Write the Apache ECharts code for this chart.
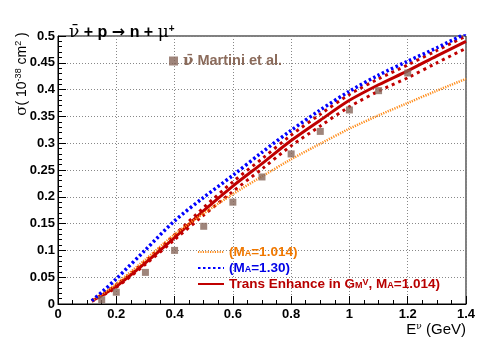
<!DOCTYPE html>
<html>
<head>
<meta charset="utf-8">
<script src="https://cdn.jsdelivr.net/npm/echarts@6/dist/echarts.min.js"></script>
<style>
html,body{margin:0;padding:0;background:#fff;}
#chart{width:485px;height:360px;}
</style>
</head>
<body>
<div id="chart"></div>
<script>
// ---- data ----
const energy        = [0.116, 0.15, 0.2, 0.3, 0.4, 0.5, 0.6, 0.7, 0.8, 0.9, 1.0, 1.1, 1.2, 1.3, 1.4];
const sigmaMA1014   = [0.006, 0.018, 0.038, 0.083, 0.130, 0.169, 0.205, 0.238, 0.270, 0.299, 0.327, 0.352, 0.375, 0.398, 0.420];
const sigmaMA130    = [0.006, 0.022, 0.047, 0.101, 0.155, 0.199, 0.240, 0.283, 0.324, 0.362, 0.397, 0.427, 0.453, 0.478, 0.505];
const sigmaTrans    = [0.006, 0.016, 0.033, 0.077, 0.124, 0.174, 0.220, 0.262, 0.305, 0.343, 0.380, 0.409, 0.435, 0.463, 0.490];
const sigmaTransUp  = [0.006, 0.017, 0.035, 0.080, 0.129, 0.180, 0.228, 0.271, 0.315, 0.354, 0.391, 0.420, 0.446, 0.473, 0.500];
const sigmaTransLow = [0.005, 0.015, 0.031, 0.074, 0.120, 0.166, 0.210, 0.252, 0.295, 0.332, 0.368, 0.397, 0.422, 0.450, 0.477];
const martiniE      = [0.15, 0.2, 0.3, 0.4, 0.5, 0.6, 0.7, 0.8, 0.9, 1.0, 1.1, 1.2];
const martiniSigma  = [0.008, 0.022, 0.059, 0.100, 0.145, 0.190, 0.237, 0.280, 0.322, 0.362, 0.398, 0.431];
const xTicks = {min: 0, max: 1.4, interval: 0.2};
const yTicks = {min: 0, max: 0.5, interval: 0.05};

const pair = (xs, ys) => xs.map((x, i) => [x, ys[i]]);

const legendLabels = {
  'Martini': '{g|ν\u0304} Martini et al.',
  'MA1014': '(M{sub|A}=1.014)',
  'MA130': '(M{sub|A}=1.30)',
  'Trans': 'Trans Enhance in G{sub|M}{sup|V}, M{sub|A}=1.014)'
};
const colOrangeText = '#f07800', colBlueText = '#0000e6', colRedText = '#b80000';
const richFor = c => ({
  sub: {fontSize: 9, fontWeight: 'bold', verticalAlign: 'bottom', lineHeight: 10, fontFamily: 'Liberation Sans', color: c},
  sup: {fontSize: 9, fontWeight: 'bold', verticalAlign: 'top', lineHeight: 10, fontFamily: 'Liberation Sans', color: c}
});
const legendText = c => ({color: c, fontFamily: 'Liberation Sans', fontWeight: 'bold', fontSize: 13.5, lineHeight: 12, rich: richFor(c)});

const chart = echarts.init(document.getElementById('chart'), null, {renderer: 'canvas'});
chart.setOption({
  animation: false,
  backgroundColor: '#fff',
  title: {
    text: '{g|ν\u0304} + p {a|→} n + {g|μ}{sup|+}',
    left: 64, top: 19,
    textStyle: {
      fontFamily: 'Liberation Sans', fontWeight: 'bold', fontSize: 16, color: '#000', lineHeight: 18,
      rich: {
        g: {fontFamily: 'DejaVu Serif', fontSize: 17, fontWeight: 'normal', color: '#000', lineHeight: 18},
        a: {fontFamily: 'DejaVu Sans', fontSize: 16, color: '#000', lineHeight: 18},
        sup: {fontSize: 10, fontWeight: 'bold', verticalAlign: 'top', lineHeight: 11, color: '#000'}
      }
    }
  },
  grid: {left: 58, right: 19, top: 36, bottom: 56, show: true, borderColor: '#000', borderWidth: 1,
    backgroundColor: 'transparent', containLabel: false, outerBoundsMode: 'none'},
  xAxis: {
    type: 'value', min: xTicks.min, max: xTicks.max, interval: xTicks.interval,
    axisLine: {show: true, lineStyle: {color: '#000', width: 1}},
    axisTick: {show: true, inside: true, length: 8, lineStyle: {color: '#000'}},
    minorTick: {show: true, splitNumber: 4, length: 4, lineStyle: {color: '#000'}},
    splitLine: {show: true, lineStyle: {color: '#888', type: [1, 2], width: 1}},
    axisLabel: {color: '#000', fontFamily: 'Liberation Sans', fontWeight: 'bold', fontSize: 13, margin: 4}
  },
  yAxis: {
    type: 'value', min: yTicks.min, max: yTicks.max, interval: yTicks.interval,
    axisLine: {show: true, lineStyle: {color: '#000', width: 1}},
    axisTick: {show: true, inside: true, length: 8, lineStyle: {color: '#000'}},
    minorTick: {show: true, splitNumber: 5, length: 4, lineStyle: {color: '#000'}},
    splitLine: {show: true, lineStyle: {color: '#888', type: [1, 2], width: 1}},
    axisLabel: {color: '#000', fontFamily: 'Liberation Sans', fontWeight: 'bold', fontSize: 13, margin: 3}
  },
  graphic: [{
    type: 'text', x: 22, y: 74, rotation: Math.PI / 2,
    style: {
      text: '{g|σ}( 10{sup|-38} cm{sup|2} )',
      fontFamily: 'Liberation Sans', fontSize: 14, fill: '#000',
      align: 'center', verticalAlign: 'middle', lineHeight: 16,
      rich: {
        g: {fontFamily: 'DejaVu Serif', fontSize: 15, lineHeight: 16},
        sup: {fontSize: 9, verticalAlign: 'top', lineHeight: 10}
      }
    }
  }, {
    type: 'text', x: 466, y: 330,
    style: {
      text: 'E{sup|ν} (GeV)',
      fontFamily: 'Liberation Sans', fontSize: 15, fill: '#000',
      align: 'right', verticalAlign: 'middle', lineHeight: 16,
      rich: {sup: {fontSize: 9, fontFamily: 'DejaVu Serif', verticalAlign: 'top', lineHeight: 10}}
    }
  }],
  legend: [{
    data: ['Martini'], left: 164, top: 48, itemWidth: 9, itemHeight: 9, itemGap: 4,
    formatter: n => legendLabels[n],
    textStyle: {color: '#8b6b5b', fontFamily: 'Liberation Sans', fontWeight: 'bold', fontSize: 14.5, lineHeight: 16,
      rich: {g: {fontFamily: 'DejaVu Serif', fontSize: 15, color: '#8b6b5b', lineHeight: 16}}}
  }, {
    data: [
      {name: 'MA1014', textStyle: legendText(colOrangeText)},
      {name: 'MA130', textStyle: legendText(colBlueText)},
      {name: 'Trans', textStyle: legendText(colRedText)}
    ],
    orient: 'vertical', left: 192, top: 240,
    itemWidth: 26, itemHeight: 10, itemGap: 2,
    itemStyle: {opacity: 0},
    formatter: n => legendLabels[n],
    textStyle: legendText('#000')
  }],
  series: [
    {name: 'TransUp', type: 'line', data: pair(energy, sigmaTransUp), smooth: 0.3, showSymbol: false,
      lineStyle: {color: '#c00000', width: 3, type: [3, 4]}, z: 2},
    {name: 'TransLow', type: 'line', data: pair(energy, sigmaTransLow), smooth: 0.3, showSymbol: false,
      lineStyle: {color: '#c00000', width: 3, type: [3, 4]}, z: 2},
    {name: 'Trans', type: 'line', data: pair(energy, sigmaTrans), smooth: 0.3, showSymbol: false, symbol: 'none',
      itemStyle: {color: '#c00000'}, lineStyle: {color: '#c00000', width: 3},
      z: 3},
    {name: 'MA1014', type: 'line', data: pair(energy, sigmaMA1014), smooth: 0.3, showSymbol: false, symbol: 'none',
      itemStyle: {color: '#ff8c1a'}, lineStyle: {color: '#ff8c1a', width: 2.5, type: [1.2, 1.2]}, z: 4},
    {name: 'MA130', type: 'line', data: pair(energy, sigmaMA130), smooth: 0.3, showSymbol: false, symbol: 'none',
      itemStyle: {color: '#0000ff'}, lineStyle: {color: '#0000ff', width: 3.5, type: [2.5, 2.5]}, z: 5},
    {name: 'Martini', type: 'scatter', data: pair(martiniE, martiniSigma), symbol: 'rect', symbolSize: 7,
      itemStyle: {color: '#87675a'}, z: 6}
  ]
});
</script>
</body>
</html>
